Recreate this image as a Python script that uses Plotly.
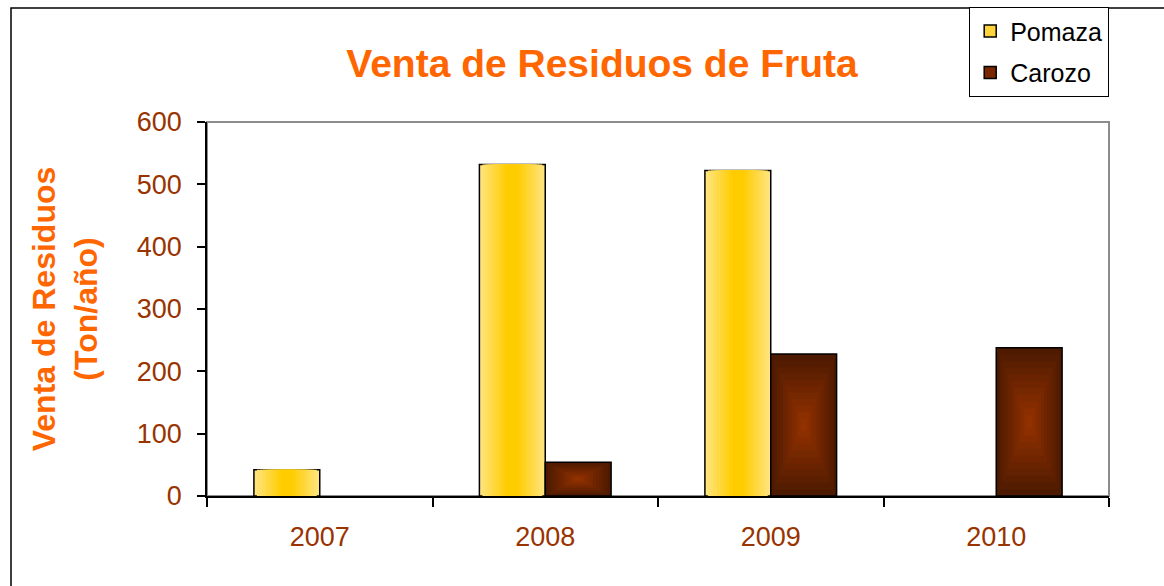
import plotly.graph_objects as go

years = ["2007", "2008", "2009", "2010"]
pomaza = [42, 532, 522, None]
carozo = [None, 54, 228, 238]
y_ticks = [0, 100, 200, 300, 400, 500, 600]

FONT = "Liberation Sans, Arial, sans-serif"
BAR_W = 0.292
N = 11


def mix(c1, c2, t):
    return "rgb(%d,%d,%d)" % tuple(round(a + (b - a) * t) for a, b in zip(c1, c2))


fig = go.Figure()

# Pomaza: horizontal gradient (light edges -> gold centre)
p_edge, p_mid = (255, 228, 125), (255, 204, 0)
for k in range(N):
    f = 1 - k / N
    t = min(1.0, (k / N) * 1.25)
    fig.add_trace(go.Bar(
        x=years, y=pomaza, width=BAR_W * f, offset=-BAR_W / 2 - BAR_W * f / 2,
        marker=dict(color=mix(p_edge, p_mid, t),
                    line=dict(color="black", width=1.5 if k == 0 else 0)),
        showlegend=False, hoverinfo="skip"))

# Carozo: box gradient (dark edges -> rust centre)
c_edge, c_mid = (77, 26, 0), (153, 51, 0)
for k in range(N):
    f = 1 - k / N
    t = k / N
    base = [None if v is None else v * (1 - f) / 2 for v in carozo]
    h = [None if v is None else v * f for v in carozo]
    fig.add_trace(go.Bar(
        x=years, y=h, base=base, width=BAR_W * f, offset=BAR_W / 2 - BAR_W * f / 2,
        marker=dict(color=mix(c_edge, c_mid, t),
                    line=dict(color="black", width=1.5 if k == 0 else 0)),
        showlegend=False, hoverinfo="skip"))

# legend keys
fig.add_trace(go.Bar(x=years, y=[None] * 4, name="Pomaza", legendgroup="a",
                     marker=dict(color="#FFD43A", line=dict(color="black", width=1.5))))
fig.add_trace(go.Bar(x=years, y=[None] * 4, name="Carozo", legendgroup="b",
                     marker=dict(color="#7A2600", line=dict(color="black", width=1.5))))

fig.update_layout(
    width=1164, height=586,
    margin=dict(l=207, r=55, t=122, b=90, autoexpand=False),
    paper_bgcolor="white", plot_bgcolor="white",
    barmode="overlay",
    font=dict(family=FONT, color="#993300"),
    title=dict(text="<b>Venta de Residuos de Fruta</b>", x=602 / 1164, xanchor="center",
               y=1 - 63 / 586, yanchor="middle",
               font=dict(size=39, color="#FF6600", family=FONT)),
    xaxis=dict(type="category", categoryorder="array", categoryarray=years,
               range=[-0.5, 3.5], showgrid=False, showline=True, linecolor="black",
               linewidth=1.5, ticks="outside", tickson="boundaries", ticklen=9,
               tickcolor="black", tickwidth=1.5, ticklabelstandoff=16,
               tickfont=dict(size=27, color="#993300")),
    yaxis=dict(range=[0, 600], tickvals=y_ticks, showgrid=False, showline=True,
               linecolor="black", linewidth=1.5, ticks="outside", ticklen=8,
               tickcolor="black", tickwidth=1.5, ticklabelstandoff=10,
               tickfont=dict(size=27, color="#993300"), zeroline=False,
               title=dict(text="<b>Venta de Residuos<br>(Ton/año)</b>", standoff=30,
                          font=dict(size=32, color="#FF6600"))),
    legend=dict(x=(969 - 207) / 902, y=(496 - 7) / 374, xanchor="left", yanchor="top",
                bordercolor="black", borderwidth=1.2, bgcolor="white",
                font=dict(size=25, color="black", family=FONT),
                tracegroupgap=6, itemwidth=30),
    showlegend=True,
    shapes=[
        dict(type="rect", xref="paper", yref="paper", x0=0, x1=1, y0=0, y1=1,
             line=dict(color="#8c8c8c", width=2), layer="below"),
        dict(type="rect", xref="paper", yref="paper",
             x0=(11 - 207) / 902, x1=1.2, y0=-0.5, y1=(496 - 8) / 374,
             line=dict(color="black", width=1.5), layer="below"),
    ],
)

fig.write_html("out.html", config={"displayModeBar": False},
               post_script="document.body.style.margin='0';document.body.style.overflow='hidden';")
